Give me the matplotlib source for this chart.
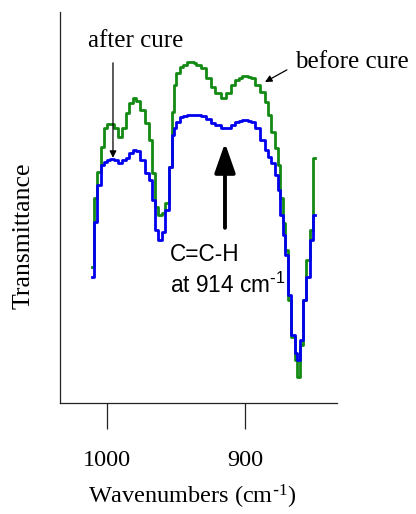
import matplotlib

matplotlib.use("Agg")
import matplotlib.pyplot as plt

plt.rcParams["font.family"] = ["Liberation Serif", "DejaVu Serif"]
plt.rcParams["mathtext.default"] = "regular"

# wavenumber grid (cm-1) shared by both spectra
wavenumber = [
    1010.9, 1008.7, 1005.8, 1003.6, 1001.4, 999.3, 996.4, 993.5, 990.6, 987.7,
    985.5, 982.6, 980.4, 977.5, 974.6, 971.0, 968.8, 966.6, 963.8, 961.6,
    959.4, 956.5, 954.3, 952.2, 950.7, 948.6, 945.7, 943.5, 940.6, 938.4,
    936.2, 934.1, 930.4, 926.8, 923.2, 919.6, 915.9, 912.3, 908.7, 905.8,
    903.6, 900.7, 898.6, 896.4, 894.2, 890.6, 887.0, 884.1, 881.9, 879.7,
    876.8, 875.4, 873.2, 871.7, 869.6, 867.4, 865.2, 863.0, 860.9, 858.7,
    856.5, 854.4, 851.4, 849.3,
]

before_cure = [
    34.8, 52.4, 59.1, 65.5, 70.3, 71.4, 71.4, 70.3, 68.0, 70.3,
    74.2, 76.7, 78.0, 77.3, 74.9, 71.6, 67.3, 58.8, 50.1, 48.1,
    48.6, 51.2, 60.4, 74.4, 81.3, 84.4, 85.9, 86.5, 87.2, 87.2,
    87.0, 86.5, 85.7, 83.1, 80.8, 79.3, 78.0, 79.3, 81.3, 82.6,
    83.1, 83.6, 83.6, 83.4, 83.1, 81.3, 79.6, 77.0, 73.7, 69.3,
    65.2, 60.9, 52.4, 46.0, 39.1, 26.3, 16.9, 11.0, 6.7, 14.8,
    26.3, 36.6, 44.3, 62.7,
]

after_cure = [
    32.2, 46.3, 55.8, 60.9, 61.6, 62.2, 62.4, 62.2, 61.4, 62.2,
    62.7, 64.0, 64.7, 64.5, 62.2, 58.8, 57.0, 51.9, 44.3, 41.7,
    43.7, 49.4, 60.4, 68.6, 70.3, 71.9, 73.2, 73.4, 73.7, 73.7,
    73.7, 73.7, 73.4, 72.6, 71.6, 71.1, 70.3, 70.3, 71.1, 71.9,
    72.1, 72.4, 72.4, 72.1, 71.9, 70.3, 67.3, 64.7, 62.9, 61.4,
    58.3, 54.5, 48.1, 43.0, 37.9, 27.6, 17.4, 12.8, 11.0, 16.1,
    26.3, 32.2, 41.7, 48.1,
]

x_ticks = [1000, 900]
x_tick_labels = ["1000", "900"]

GREEN = "#138a13"
BLUE = "#0000ee"

fig = plt.figure(figsize=(4.16, 5.14), dpi=100)
ax = fig.add_axes([60 / 416, 111 / 514, 277 / 416, 391 / 514])

ax.plot(wavenumber, before_cure, drawstyle="steps-mid", color=GREEN, lw=2.0, zorder=2)
ax.plot(wavenumber, after_cure, drawstyle="steps-mid", color=BLUE, lw=2.0, zorder=3)

ax.set_xlim(1034.1, 833.3)
ax.set_ylim(0, 100)

for side in ("top", "right"):
    ax.spines[side].set_visible(False)
for side in ("left", "bottom"):
    ax.spines[side].set_linewidth(0.9)
    ax.spines[side].set_color("#222222")

ax.set_yticks([])
ax.set_xticks(x_ticks)
ax.set_xticklabels(x_tick_labels)
ax.tick_params(axis="x", direction="out", length=19, width=0.9, color="#222222",
               labelsize=17.5, pad=14.5)

ax.set_xlabel(r"Wavenumbers (cm$^{\text{-}1}$)", fontsize=17.5)
ax.xaxis.set_label_coords(0.4765, -0.205)
fig.text(24 / 416, 1 - 236 / 514, "Transmittance", rotation=90,
         ha="center", va="center", fontsize=18.5)

# annotations
ax.text(979, 91.1, "after cure", ha="center", va="baseline", fontsize=18)
ax.annotate("", xy=(995.7, 62.7), xytext=(995.7, 87.0),
            arrowprops=dict(arrowstyle="-|>", color="black", lw=0.9,
                            mutation_scale=10, shrinkA=0, shrinkB=0))

ax.text(863.8, 85.7, "before cure", ha="left", va="baseline", fontsize=18)
ax.annotate("", xy=(885.5, 82.1), xytext=(869.6, 85.2),
            arrowprops=dict(arrowstyle="-|>", color="black", lw=0.9,
                            mutation_scale=10, shrinkA=0, shrinkB=0))

ax.annotate("", xy=(914.5, 66.5), xytext=(914.5, 44.8),
            arrowprops=dict(arrowstyle="-|>,head_width=0.35,head_length=1.0",
                            color="black", lw=2.8, mutation_scale=18,
                            shrinkA=0, shrinkB=0))
sans = ["Liberation Sans", "DejaVu Sans"]
ax.text(954.3, 36.3, "C=C-H", ha="left", va="baseline", fontsize=16.3, family=sans)
ax.text(954.3, 28.1, r"at 914 cm$^{\text{-}1}$", ha="left", va="baseline",
        fontsize=16.3, family=sans)

fig.savefig("out.png", dpi=100)
